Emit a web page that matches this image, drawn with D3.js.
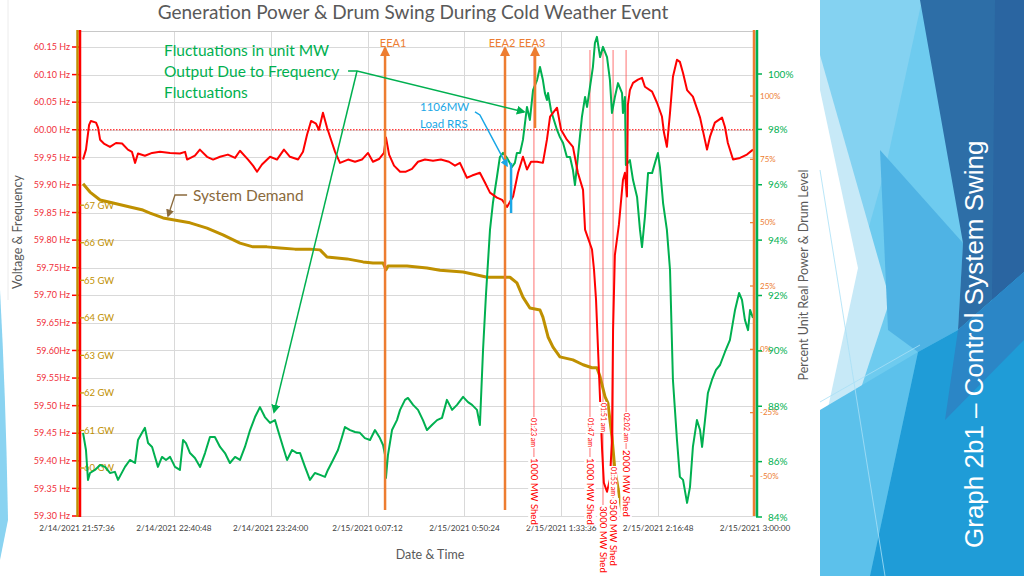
<!DOCTYPE html>
<html><head><meta charset="utf-8">
<script src="https://cdn.jsdelivr.net/npm/d3@7"></script>
<style>
body{margin:0;background:#fff;}
svg{display:block;font-family:Lato,'Open Sans',sans-serif;}
</style>
</head><body>
<svg id="c" width="1024" height="576"></svg>
<script>
// ---------------- DATA ----------------
const startTime = new Date(2021, 1, 14, 21, 57, 36);
// x ticks: elapsed minutes since start, and their labels
const xTickMinutes = [0, 43.2, 86.4, 129.6, 172.8, 216, 259.2, 302.4];
const xTickLabels = ["2/14/2021 21:57:36","2/14/2021 22:40:48","2/14/2021 23:24:00","2/15/2021 0:07:12",
  "2/15/2021 0:50:24","2/15/2021 1:33:36","2/15/2021 2:16:48","2/15/2021 3:00:00"];
const freqTicks = [60.15,60.10,60.05,60.00,59.95,59.90,59.85,59.80,59.75,59.70,59.65,59.60,59.55,59.50,59.45,59.40,59.35,59.30];
const freqTickLabels = ["60.15 Hz","60.10 Hz","60.05 Hz","60.00 Hz","59.95 Hz","59.90 Hz","59.85 Hz","59.80 Hz","59.75Hz",
  "59.70 Hz","59.65Hz","59.60Hz","59.55Hz","59.50 Hz","59.45 Hz","59.40 Hz","59.35 Hz","59.30 Hz"];
const gwTicks = [67,66,65,64,63,62,61,60];
const gwTickLabels = ["67 GW","66 GW","65 GW","64 GW","63 GW","62 GW","61 GW","60 GW"];
const powerTicks = [100,98,96,94,92,90,88,86,84];
const powerTickLabels = ["100%","98%","96%","94%","92%","90%","88%","86%","84%"];
const drumTicks = [100,75,50,25,0,-25,-50];
const drumTickLabels = ["100%","75%","50%","25%","0%","-25%","-50%"];

// series: [elapsed minutes, value]
const frequency = [[2.7,59.946],[4.0,59.964],[5.4,60.009],[6.2,60.016],[8.5,60.013],[9.4,60.004],[10.3,59.982],[12.0,59.975],
 [14.7,59.969],[17.4,59.976],[20.1,59.975],[22.7,59.964],[24.5,59.960],[25.9,59.940],[27.2,59.957],[30.3,59.953],[33.5,59.958],
 [37.0,59.960],[41.5,59.958],[45.9,59.957],[48.2,59.960],[49.1,59.946],[52.6,59.953],[54.8,59.964],[58.0,59.951],[60.7,59.946],
 [63.8,59.951],[67.3,59.955],[70.5,59.949],[72.7,59.962],[76.3,59.946],[78.5,59.935],[80.3,59.924],[82.5,59.937],[86.1,59.951],
 [89.2,59.946],[92.3,59.964],[95.0,59.951],[98.6,59.946],[100.8,59.960],[102.6,59.991],[104.4,60.016],[106.6,60.011],[107.9,60.000],
 [109.7,60.031],[111.5,60.004],[113.3,59.982],[115.1,59.960],[117.3,59.940],[120.9,59.946],[124.0,59.942],[127.1,59.946],
 [129.8,59.958],[132.0,59.942],[134.7,59.947],[136.9,59.958],[137.8,59.986],[139.2,59.955],[141.4,59.935],[144.1,59.924],
 [146.7,59.924],[149.4,59.929],[152.1,59.942],[155.2,59.946],[158.8,59.944],[162.3,59.946],[165.9,59.942],[168.6,59.935],
 [170.8,59.940],[173.9,59.913],[176.2,59.917],[179.7,59.922],[182.0,59.904],[184.2,59.886],[187.3,59.877],[189.6,59.873],
 [191.8,59.860],[194.5,59.879],[196.7,59.922],[198.9,59.951],[200.7,59.928],[202.5,59.942],[205.2,59.942],[207.8,59.940],
 [209.6,59.982],[211.0,60.024],[214.1,60.040],[215.9,60.000],[218.5,59.982],[221.2,59.969],[223.4,59.922],[225.7,59.891],
 [226.6,59.819],[229.7,59.783],[230.6,59.746],[231.5,59.692],[232.4,59.601],[233.3,59.511],[234.2,59.420],[235.0,59.360],
 [236.4,59.344],[237.7,59.366],[238.6,59.438],[239.1,59.638],[239.9,59.773],[241.7,59.828],[243.5,59.909],[244.4,59.922],
 [245.3,59.879],[245.7,60.045],[246.6,60.072],[248.0,60.085],[250.2,60.091],[252.0,60.094],[253.3,60.078],[256.5,60.069],
 [258.7,60.049],[260.9,60.024],[261.8,59.995],[263.1,59.969],[264.5,60.031],[265.8,60.096],[267.6,60.127],[268.9,60.123],
 [270.3,60.103],[272.1,60.072],[274.7,60.060],[277.9,60.022],[281.0,59.964],[282.3,59.987],[284.5,60.013],[287.7,60.022],
 [289.0,60.005],[290.3,59.976],[292.6,59.946],[295.7,59.949],[298.8,59.955],[301.5,59.964]];

const systemDemand = [[2.7,67.57],[5.8,67.35],[10.3,67.14],[16.1,67.06],[23.6,66.95],[29.4,66.87],[32.6,66.79],[38.4,66.66],
 [45.9,66.58],[50.4,66.53],[58.0,66.39],[65.1,66.21],[72.7,65.99],[78.5,65.89],[84.7,65.89],[90.5,65.86],[97.2,65.83],
 [103.9,65.83],[108.4,65.81],[111.5,65.62],[120.4,65.57],[127.6,65.49],[132.0,65.46],[136.5,65.46],[137.8,65.28],[138.7,65.38],
 [147.2,65.38],[156.1,65.33],[161.9,65.27],[172.2,65.22],[178.4,65.14],[182.9,65.08],[190.0,65.08],[193.1,65.08],[196.2,64.93],
 [198.9,64.55],[202.0,64.26],[206.5,64.21],[207.8,64.02],[210.1,63.49],[212.3,63.22],[215.4,62.96],[221.2,62.88],[225.7,62.75],
 [229.7,62.67],[231.9,62.67],[233.3,62.43],[235.5,61.90],[236.8,61.73],[238.6,60.83],[239.9,59.95],[242.2,59.15],[243.5,58.72]];

const unitPower = [[2.7,87.04],[4.0,86.42],[4.9,85.34],[5.8,85.59],[8.0,85.70],[10.3,85.88],[12.5,85.81],[14.7,85.59],[16.9,85.63],
 [18.3,85.34],[21.4,85.81],[23.6,86.06],[25.9,85.95],[27.2,86.78],[29.0,87.04],[30.3,87.22],[31.7,86.67],[33.5,86.53],[34.8,86.17],
 [36.1,85.81],[37.9,86.17],[39.7,86.06],[41.5,86.17],[43.7,85.81],[45.9,85.70],[47.3,86.78],[48.6,86.67],[50.4,86.31],[52.6,86.13],
 [54.9,85.81],[57.1,86.31],[59.3,86.89],[61.5,86.89],[63.8,86.53],[66.0,86.31],[68.2,85.95],[70.5,86.17],[72.7,86.06],[74.9,86.53],
 [77.2,87.14],[79.4,87.61],[81.6,87.97],[83.8,87.61],[86.1,87.40],[88.3,87.50],[89.6,87.14],[91.9,86.53],[93.7,86.06],[95.9,86.42],
 [98.1,86.31],[99.5,86.31],[101.7,85.81],[103.9,85.34],[106.1,85.59],[108.4,85.52],[110.6,85.45],[111.9,85.70],[114.2,86.06],
 [116.4,86.42],[118.2,86.89],[119.5,87.25],[121.8,87.14],[124.0,87.07],[126.2,87.04],[128.4,86.85],[130.7,86.78],[132.9,87.14],
 [135.1,86.85],[136.5,86.60],[137.4,86.24],[137.8,85.41],[138.7,86.24],[140.5,87.14],[142.7,87.50],[144.1,87.87],[146.3,88.23],
 [147.6,88.30],[149.9,88.05],[152.1,87.87],[154.3,87.50],[156.1,87.14],[158.3,87.32],[160.6,87.50],[162.8,87.58],[165.0,88.23],
 [167.3,87.87],[169.5,88.05],[172.2,88.34],[174.4,88.15],[176.2,88.05],[178.4,87.87],[179.7,87.32],[181.1,90.03],[182.4,92.02],
 [184.2,94.37],[185.5,95.34],[187.3,96.28],[188.6,97.00],[190.0,97.15],[191.8,96.97],[194.0,96.64],[195.3,96.79],[196.2,97.15],
 [197.6,97.15],[198.9,97.62],[200.7,98.81],[202.0,98.34],[203.4,99.42],[205.2,99.78],[206.5,100.25],[207.8,99.78],[208.7,99.31],
 [209.6,99.06],[210.1,99.31],[211.4,98.70],[212.3,98.45],[214.1,97.98],[215.4,97.72],[216.8,97.51],[218.5,97.00],[219.9,97.00],
 [221.2,96.53],[222.1,95.99],[223.4,97.00],[225.2,98.45],[226.6,99.17],[227.5,98.81],[228.8,99.53],[230.1,100.25],[231.0,101.12],
 [231.9,101.34],[233.3,100.61],[234.6,100.98],[236.4,100.61],[237.7,99.78],[238.6,98.59],[239.9,99.17],[241.3,99.67],[243.1,99.31],
 [243.5,98.59],[244.4,99.17],[244.8,96.71],[245.7,96.79],[246.6,96.89],[248.0,96.17],[249.8,95.56],[251.1,94.37],[252.0,93.75],
 [253.3,94.84],[254.7,96.42],[256.5,96.42],[257.8,96.79],[259.1,97.15],[260.0,96.64],[261.4,95.34],[263.1,94.37],[264.5,92.92],
 [265.8,88.95],[267.6,86.78],[268.9,85.45],[270.3,85.34],[272.1,84.51],[273.4,85.08],[274.7,86.53],[276.5,87.50],[277.9,87.14],
 [278.8,86.53],[280.1,87.50],[281.4,88.48],[283.2,88.95],[285.0,89.31],[286.8,89.49],[289.0,89.96],[291.2,90.39],[293.5,91.48],
 [295.3,92.09],[296.6,91.84],[297.9,91.12],[299.3,90.75],[300.2,91.48],[301.5,91.19]];

// event arrows: time (elapsed min), lower end in unit-power % (null = from plot bottom)
const eeaEvents = [{label:"EEA1", t:137.4, from:null}, {label:"EEA2", t:190.9, from:null}, {label:"EEA3", t:204.3, from:98.05}];
const sheds = [
  {t:203.8, time:"01:23 am", mw:"1000 MW Shed"},
  {t:228.8, time:"01:47 am", mw:"1000 MW Shed"},
  {t:234.6, time:"01:51 am", mw:"3000 MW Shed"},
  {t:239.1, time:"01:55 am", mw:"3500 MW Shed"},
  {t:244.9, time:"02:02 am", mw:"2000 MW Shed"}];

// ---------------- LAYOUT ----------------
const svg = d3.select("#c");
const L = 77, R = 755, T = 31, B = 516;
const toDate = m => new Date(startTime.getTime() + m * 60000);
const x = d3.scaleTime().domain([toDate(0), toDate(302.4)]).range([L, R]);
const yF = d3.scaleLinear().domain([59.30, 60.15]).range([516, 47]);
const yGW = d3.scaleLinear().domain([60, 67]).range([468, 205.2]);
const yP = d3.scaleLinear().domain([84, 100]).range([517, 74]);
const yD = d3.scaleLinear().domain([-50, 100]).range([476, 96]);

const C = {red:"#ff0000", gold:"#bf9000", green:"#00b050", orange:"#ed7d31", blue:"#1aa7e6", grid:"#d9d9d9", text:"#595959"};

// ---- right decorative panel ----
const deco = svg.append("g");
const poly = (pts, fill) => deco.append("polygon").attr("points", pts.map(p => p.join(",")).join(" ")).attr("fill", fill);
poly([[820,0],[1024,0],[1024,576],[820,576]], "#6ecbef");
poly([[820,0],[922,0],[885,170],[820,400]], "#84d2f1");
poly([[820,55],[890,300],[862,385],[820,480]], "#c7e9f7");
poly([[820,90],[858,268],[820,445]], "#ffffff");
poly([[880,150],[963,243],[958,330],[918,352],[888,330]], "#4fb3e4");
poly([[920,0],[1024,0],[1024,272],[958,330],[963,243]], "#2d6ea7");
poly([[995,0],[1024,0],[1024,272],[992,300]], "#2a65a1");
poly([[820,410],[918,352],[870,576],[820,576]], "#5cc1eb");
poly([[1024,272],[1024,576],[870,576],[918,352],[958,330]], "#1f9cd7");
poly([[958,330],[1024,272],[1024,340],[945,420]], "#2b86c6");
deco.append("line").attr("x1",820).attr("y1",170).attr("x2",885).attr("y2",576).attr("stroke","#a8e0f6").attr("stroke-width",0.8);
deco.append("line").attr("x1",820).attr("y1",402).attr("x2",920).attr("y2",345).attr("stroke","#a8e0f6").attr("stroke-width",0.8);
deco.append("text").attr("transform","translate(983,548) rotate(-90)").attr("fill","#ffffff")
  .style("font-family","'Liberation Sans',Arial,sans-serif").attr("font-size",26).text("Graph 2b1 – Control System Swing");
// left sliver
svg.append("path").attr("d","M0,290 Q6,400 8,520 L0,560 Z").attr("fill","#8ad3f1");
svg.append("line").attr("x1",8).attr("x2",8).attr("y1",0).attr("y2",300).attr("stroke","#ececec");

// ---- title ----
svg.append("text").attr("x",413).attr("y",18.5).attr("text-anchor","middle").attr("fill",C.text)
  .attr("font-size",19).text("Generation Power & Drum Swing During Cold Weather Event");

// ---- grid ----
const g = svg.append("g");
g.selectAll(".hg").data(freqTicks).join("line").attr("x1",L).attr("x2",R)
  .attr("y1",d=>Math.round(yF(d))+0.5).attr("y2",d=>Math.round(yF(d))+0.5).attr("stroke",C.grid);
g.selectAll(".vg").data(xTickMinutes).join("line").attr("y1",T).attr("y2",B)
  .attr("x1",d=>Math.round(x(toDate(d)))+0.5).attr("x2",d=>Math.round(x(toDate(d)))+0.5).attr("stroke",C.grid);
g.append("line").attr("x1",L).attr("x2",R).attr("y1",T+0.5).attr("y2",T+0.5).attr("stroke","#c8c8c8");
// 60 Hz reference
g.append("line").attr("x1",L).attr("x2",R).attr("y1",yF(60)).attr("y2",yF(60))
  .attr("stroke",C.red).attr("stroke-width",1).attr("stroke-dasharray","1.5,1.5");

// ---- x axis labels ----
svg.selectAll(".xl").data(xTickMinutes).join("text").attr("x",d=>x(toDate(d))).attr("y",531)
  .attr("text-anchor","middle").attr("font-size",8.2).attr("fill","#404040").text((d,i)=>xTickLabels[i]);
svg.append("text").attr("x",430).attr("y",559).attr("text-anchor","middle").attr("font-size",12.5).attr("fill",C.text).text("Date & Time");

// ---- left axes ----
svg.selectAll(".fl").data(freqTicks).join("text").attr("x",70).attr("y",d=>yF(d)).attr("dy","0.35em")
  .attr("text-anchor","end").attr("font-size",9).attr("fill","#f0303a").text((d,i)=>freqTickLabels[i]);
svg.selectAll(".ft").data(freqTicks).join("line").attr("x1",72).attr("x2",80).attr("y1",d=>yF(d)).attr("y2",d=>yF(d))
  .attr("stroke",C.red).attr("stroke-width",1.5);
svg.append("line").attr("x1",77.5).attr("x2",77.5).attr("y1",T-1).attr("y2",B+1).attr("stroke",C.gold).attr("stroke-width",2.5);
svg.append("line").attr("x1",80).attr("x2",80).attr("y1",T-1).attr("y2",B+1).attr("stroke",C.red).attr("stroke-width",2.5);
svg.selectAll(".gt").data(gwTicks).join("line").attr("x1",80).attr("x2",84).attr("y1",d=>yGW(d)).attr("y2",d=>yGW(d))
  .attr("stroke",C.gold).attr("stroke-width",1.2);
svg.selectAll(".gl").data(gwTicks).join("text").attr("x",84).attr("y",d=>yGW(d)).attr("dy","0.35em")
  .attr("font-size",9.5).attr("fill",C.gold).text((d,i)=>gwTickLabels[i]);
svg.append("text").attr("transform","translate(22,232) rotate(-90)").attr("text-anchor","middle")
  .attr("font-size",12.5).attr("fill",C.text).text("Voltage & Frequency");

// ---- right axes ----
svg.selectAll(".dt").data(drumTicks).join("line").attr("x1",750).attr("x2",755).attr("y1",d=>yD(d)).attr("y2",d=>yD(d))
  .attr("stroke",C.orange).attr("stroke-width",1.2);
svg.selectAll(".dl").data(drumTicks).join("text").attr("x",760).attr("y",d=>yD(d)).attr("dy","0.35em")
  .attr("font-size",8).attr("fill",C.orange).text((d,i)=>drumTickLabels[i]);
svg.selectAll(".pt").data(powerTicks).join("line").attr("x1",756).attr("x2",762).attr("y1",d=>yP(d)).attr("y2",d=>yP(d))
  .attr("stroke",C.green).attr("stroke-width",1.5);
svg.selectAll(".pl").data(powerTicks).join("text").attr("x",768).attr("y",d=>yP(d)).attr("dy","0.35em")
  .attr("font-size",10).attr("fill",C.green).text((d,i)=>powerTickLabels[i]);
svg.append("text").attr("transform","translate(808,275) rotate(-90)").attr("text-anchor","middle")
  .attr("font-size",12.5).attr("fill",C.text).text("Percent Unit Real Power & Drum Level");

// ---- markers ----
const defs = svg.append("defs");
function marker(id, color, size) {
  defs.append("marker").attr("id",id).attr("viewBox","0 0 10 10").attr("refX",8).attr("refY",5)
    .attr("markerWidth",size).attr("markerHeight",size).attr("orient","auto-start-reverse").attr("markerUnits","userSpaceOnUse")
    .append("path").attr("d","M0,0 L10,5 L0,10 Z").attr("fill",color);
}
marker("aO", C.orange, 10); marker("aG", C.green, 9); marker("aB", C.blue, 8); marker("aS", "#8a6a3c", 8);

// ---- shed lines ----
const shedG = svg.append("g");
shedG.selectAll("line").data(sheds).join("line").attr("x1",d=>x(toDate(d.t))).attr("x2",d=>x(toDate(d.t)))
  .attr("y1",50).attr("y2",505).attr("stroke","#ff5050").attr("stroke-width",1).attr("opacity",0.8);

// ---- series ----
const line = (ys) => d3.line().x(d=>x(toDate(d[0]))).y(d=>ys(d[1]));
svg.append("path").datum(systemDemand).attr("d",line(yGW)).attr("fill","none").attr("stroke",C.gold).attr("stroke-width",3).attr("stroke-linejoin","round");
svg.append("path").datum(unitPower).attr("d",line(yP)).attr("fill","none").attr("stroke",C.green).attr("stroke-width",2).attr("stroke-linejoin","round");
svg.append("path").datum(frequency).attr("d",line(yF)).attr("fill","none").attr("stroke",C.red).attr("stroke-width",2).attr("stroke-linejoin","round");

// right axis lines
svg.append("line").attr("x1",754).attr("x2",754).attr("y1",T-1).attr("y2",B).attr("stroke",C.orange).attr("stroke-width",2.5);
svg.append("line").attr("x1",757).attr("x2",757).attr("y1",T-1).attr("y2",B+1).attr("stroke",C.green).attr("stroke-width",2.5);

// ---- EEA arrows ----
eeaEvents.forEach(e => {
  const xx = x(toDate(e.t));
  svg.append("line").attr("x1",xx).attr("x2",xx).attr("y1",e.from === null ? 510 : yP(e.from)).attr("y2",48)
    .attr("stroke",C.orange).attr("stroke-width",2.5).attr("marker-end","url(#aO)");
  svg.append("text").attr("x",xx - (e.label==="EEA1" ? -8 : 3)).attr("y",47).attr("text-anchor","middle")
    .attr("font-size",11).attr("fill",C.orange).text(e.label);
});

// ---- shed labels ----
const timeY = [418, 418, 403, 467, 413], mwY = [458, 458, 506, 499, 450];
sheds.forEach((s, i) => {
  const xx = x(toDate(s.t));
  [[s.time, timeY[i], 7], [s.mw, mwY[i], 9.6]].forEach(([txt, y0, fs]) => {
    const gg = svg.append("g").attr("transform",`translate(${xx},${y0}) rotate(90)`);
    const r = gg.append("rect").attr("fill","#fff");
    const t = gg.append("text").attr("x",0).attr("y",0).attr("dy","0.35em").attr("font-size",fs).attr("fill",C.red).text(txt);
    const w = t.node().getComputedTextLength();
    r.attr("x",-1).attr("y",-fs*0.6).attr("width",w+2).attr("height",fs*1.2);
  });
});

// ---- annotations (anchored in data units: minutes, unit power %) ----
const P = (m, v) => [x(toDate(m)), yP(v)];
const fl = [["Fluctuations in unit MW",51],["Output Due to Frequency",72],["Fluctuations",93]];
fl.forEach(([t,y]) => svg.append("text").attr("x",164).attr("y",y).attr("dy","0.35em").attr("font-size",15.5).attr("fill",C.green).text(t));
const src0 = P(120.9, 100.11), src = P(124.9, 100.11);
svg.append("path").attr("d",`M${src0}L${src}L${P(199.4,98.63)}`).attr("fill","none").attr("stroke",C.green).attr("stroke-width",1.5).attr("marker-end","url(#aG)");
svg.append("path").attr("d",`M${src}L${P(87.9,87.79)}`).attr("fill","none").attr("stroke",C.green).attr("stroke-width",1.5).attr("marker-end","url(#aG)");

svg.append("text").attr("x",420).attr("y",111).attr("font-size",11.5).attr("fill",C.blue).text("1106MW");
svg.append("text").attr("x",420).attr("y",128).attr("font-size",11.5).attr("fill",C.blue).text("Load RRS");
svg.append("path").attr("d",`M${P(177.5,98.63)}L${P(179.7,98.52)}L${P(191.8,96.68)}`).attr("fill","none")
  .attr("stroke",C.blue).attr("stroke-width",1.5).attr("marker-end","url(#aB)");
svg.append("path").attr("d",`M${P(193.6,96.79)}L${P(193.6,94.98)}`).attr("stroke",C.blue).attr("stroke-width",2.5);

svg.append("text").attr("x",193).attr("y",196).attr("dy","0.35em").attr("font-size",15.5).attr("fill","#8a6a3c").text("System Demand");
svg.append("path").attr("d",`M${P(49.1,95.63)}L${P(43.7,95.63)}L${P(40.6,94.87)}`).attr("fill","none")
  .attr("stroke","#8a6a3c").attr("stroke-width",1.3).attr("marker-end","url(#aS)");
</script>
</body></html>
